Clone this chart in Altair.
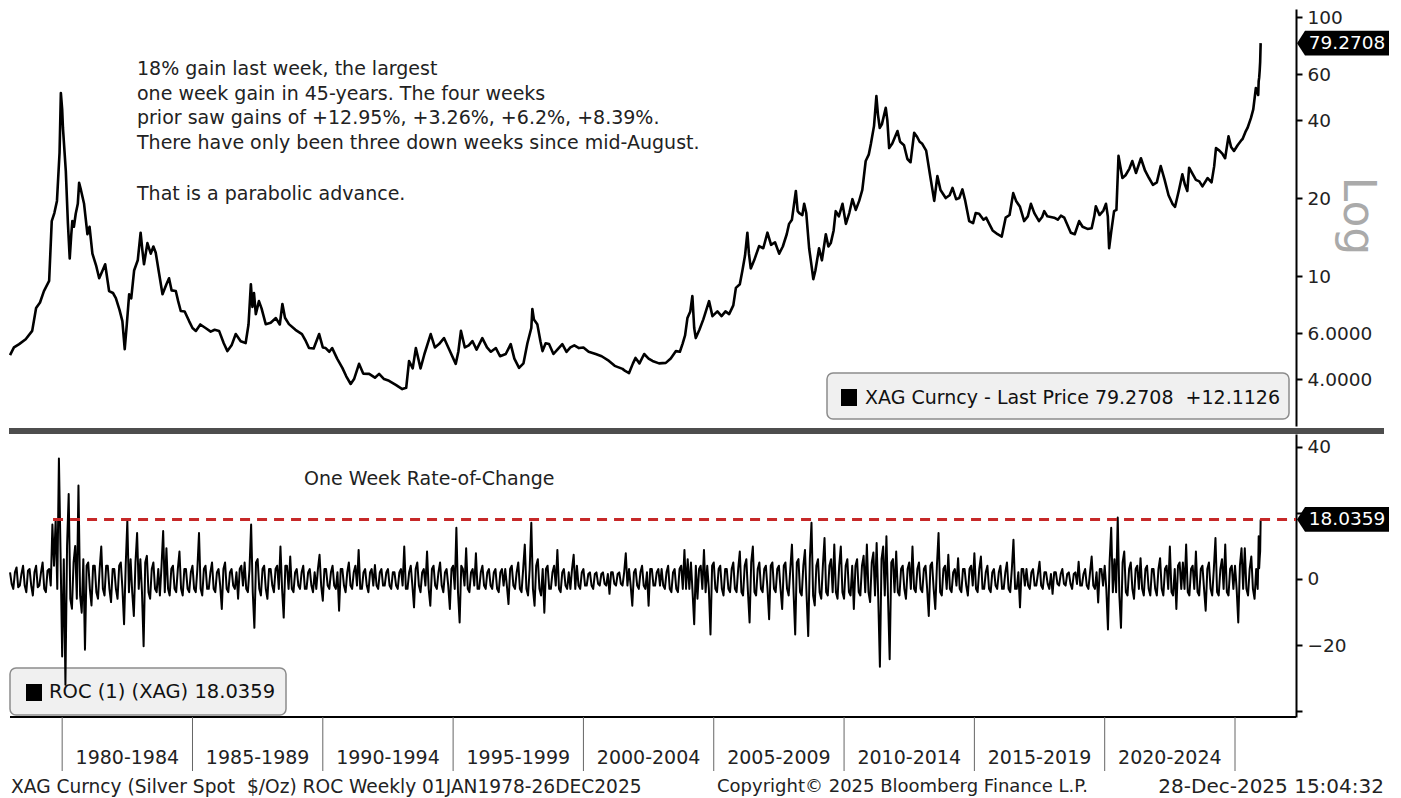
import altair as alt
import pandas as pd

# ---------------- data ----------------
price_year = [
    1978.0, 1978.15, 1978.35, 1978.6, 1978.85, 1979.0, 1979.15, 1979.3, 1979.5, 1979.6,
    1979.7, 1979.8, 1979.9, 1979.95, 1980.0, 1980.03, 1980.14, 1980.22, 1980.29, 1980.35,
    1980.39, 1980.45, 1980.52, 1980.6, 1980.65, 1980.72, 1980.84, 1980.97, 1981.05, 1981.16,
    1981.3, 1981.42, 1981.55, 1981.65, 1981.8, 1981.95, 1982.06, 1982.2, 1982.31, 1982.4,
    1982.48, 1982.57, 1982.65, 1982.76, 1982.9, 1983.01, 1983.08, 1983.14, 1983.27, 1983.4,
    1983.5, 1983.59, 1983.7, 1983.85, 1984.0, 1984.1, 1984.2, 1984.36, 1984.45, 1984.55,
    1984.7, 1984.87, 1985.0, 1985.13, 1985.3, 1985.5, 1985.7, 1985.85, 1986.02, 1986.2,
    1986.34, 1986.5, 1986.66, 1986.85, 1987.04, 1987.15, 1987.24, 1987.3, 1987.36, 1987.43,
    1987.55, 1987.65, 1987.81, 1988.0, 1988.2, 1988.35, 1988.45, 1988.55, 1988.7, 1988.95,
    1989.2, 1989.35, 1989.47, 1989.65, 1989.86, 1990.0, 1990.11, 1990.25, 1990.36, 1990.55,
    1990.75, 1990.9, 1991.07, 1991.2, 1991.39, 1991.55, 1991.78, 1992.0, 1992.16, 1992.35,
    1992.54, 1992.8, 1993.05, 1993.2, 1993.31, 1993.45, 1993.57, 1993.75, 1993.9, 1994.14,
    1994.3, 1994.46, 1994.65, 1994.85, 1995.1, 1995.2, 1995.3, 1995.45, 1995.6, 1995.74,
    1995.9, 1996.12, 1996.3, 1996.45, 1996.64, 1996.8, 1997.02, 1997.21, 1997.35, 1997.53,
    1997.7, 1997.85, 1998.0, 1998.04, 1998.1, 1998.23, 1998.35, 1998.43, 1998.55, 1998.68,
    1998.85, 1999.0, 1999.19, 1999.35, 1999.5, 1999.65, 1999.83, 2000.0, 2000.2, 2000.47,
    2000.7, 2000.98, 2001.2, 2001.5, 2001.6, 2001.75, 2001.9, 2002.0, 2002.15, 2002.33,
    2002.5, 2002.65, 2002.9, 2003.16, 2003.35, 2003.55, 2003.7, 2003.8, 2003.9, 2003.99,
    2004.1, 2004.18, 2004.25, 2004.31, 2004.45, 2004.6, 2004.82, 2004.95, 2005.14, 2005.3,
    2005.45, 2005.59, 2005.75, 2005.85, 2006.0, 2006.1, 2006.2, 2006.29, 2006.35, 2006.42,
    2006.55, 2006.74, 2006.9, 2007.06, 2007.2, 2007.35, 2007.51, 2007.65, 2007.8, 2007.89,
    2008.0, 2008.15, 2008.22, 2008.28, 2008.4, 2008.47, 2008.55, 2008.66, 2008.75, 2008.82,
    2008.9, 2009.04, 2009.15, 2009.3, 2009.4, 2009.49, 2009.6, 2009.68, 2009.8, 2009.94,
    2010.07, 2010.2, 2010.32, 2010.45, 2010.58, 2010.7, 2010.83, 2010.95, 2011.03, 2011.15,
    2011.24, 2011.3, 2011.37, 2011.45, 2011.6, 2011.66, 2011.73, 2011.85, 2012.05, 2012.15,
    2012.3, 2012.43, 2012.55, 2012.69, 2012.8, 2012.9, 2013.0, 2013.15, 2013.3, 2013.46,
    2013.58, 2013.7, 2013.9, 2014.05, 2014.16, 2014.3, 2014.42, 2014.54, 2014.65, 2014.8,
    2014.95, 2015.05, 2015.18, 2015.35, 2015.45, 2015.57, 2015.7, 2015.89, 2016.05, 2016.2,
    2016.35, 2016.49, 2016.6, 2016.75, 2016.91, 2017.05, 2017.17, 2017.3, 2017.48, 2017.6,
    2017.68, 2017.8, 2018.06, 2018.2, 2018.32, 2018.45, 2018.6, 2018.7, 2018.85, 2019.02,
    2019.15, 2019.34, 2019.5, 2019.6, 2019.66, 2019.8, 2019.95, 2020.05, 2020.12, 2020.17,
    2020.25, 2020.36, 2020.45, 2020.53, 2020.6, 2020.68, 2020.8, 2020.95, 2021.06, 2021.2,
    2021.39, 2021.55, 2021.7, 2021.85, 2022.0, 2022.15, 2022.3, 2022.45, 2022.6, 2022.7,
    2022.85, 2022.98, 2023.08, 2023.17, 2023.24, 2023.35, 2023.5, 2023.63, 2023.75, 2023.95,
    2024.1, 2024.2, 2024.27, 2024.4, 2024.52, 2024.62, 2024.75, 2024.85, 2024.96, 2025.1,
    2025.25, 2025.29, 2025.4, 2025.48, 2025.61, 2025.7, 2025.8, 2025.89, 2025.908, 2025.927,
    2025.946, 2025.965, 2025.984,
]
price_value = [
    4.95, 5.3, 5.46, 5.7, 6.14, 7.52, 7.9, 8.75, 9.57, 16.3,
    17.5, 19.5, 30.0, 50.9, 44.0, 37.3, 25.4, 16.0, 11.7, 14.5,
    16.3, 15.5, 17.4, 19.0, 22.9, 21.5, 19.0, 14.5, 15.5, 12.2,
    11.0, 9.8, 10.5, 11.1, 8.75, 8.6, 8.22, 7.4, 6.7, 5.22,
    6.5, 8.5, 8.2, 10.5, 11.5, 14.7, 12.5, 11.1, 13.4, 12.2,
    13.0, 12.3, 10.5, 8.5, 9.3, 9.8, 8.8, 8.75, 8.0, 7.33,
    7.3, 6.7, 6.3, 6.14, 6.5, 6.3, 6.1, 6.2, 6.14, 5.5,
    5.13, 5.4, 5.97, 5.6, 5.51, 6.5, 9.3, 7.6, 8.6, 7.13,
    8.0, 7.5, 6.52, 6.6, 6.88, 6.5, 7.8, 6.9, 6.52, 6.2,
    5.97, 5.6, 5.27, 5.25, 5.97, 5.3, 5.27, 5.1, 5.27, 4.8,
    4.42, 4.1, 3.83, 4.0, 4.58, 4.2, 4.19, 4.05, 4.19, 4.0,
    3.94, 3.8, 3.66, 3.7, 4.7, 4.4, 5.27, 4.4, 5.0, 5.97,
    5.3, 5.46, 5.76, 5.2, 4.58, 5.1, 6.14, 5.3, 5.4, 5.61,
    5.2, 5.76, 5.3, 5.1, 5.27, 4.9, 5.0, 5.46, 4.8, 4.42,
    4.6, 5.5, 6.3, 7.46, 6.8, 6.52, 5.6, 5.13, 5.5, 5.46,
    5.0, 5.2, 5.46, 5.1, 5.3, 5.4, 5.27, 5.3, 5.1, 5.0,
    4.9, 4.7, 4.5, 4.38, 4.3, 4.22, 4.6, 4.83, 4.6, 5.0,
    4.8, 4.7, 4.6, 4.62, 4.8, 5.13, 5.1, 5.46, 5.9, 6.88,
    7.3, 8.37, 6.3, 5.76, 6.2, 6.8, 8.0, 7.0, 7.3, 7.0,
    7.3, 7.13, 7.7, 9.0, 9.3, 10.5, 12.0, 14.7, 12.2, 10.7,
    11.5, 13.05, 12.8, 14.7, 13.2, 13.5, 12.2, 13.0, 14.5, 15.9,
    16.5, 21.3, 17.8, 17.5, 17.2, 19.0, 17.5, 12.8, 11.0, 9.73,
    10.5, 12.8, 11.5, 14.5, 13.0, 13.4, 15.0, 17.8, 17.0, 19.0,
    15.9, 17.5, 19.8, 18.0, 19.5, 21.5, 27.8, 29.5, 32.4, 38.0,
    49.5, 42.0, 37.3, 38.5, 44.6, 40.0, 31.2, 32.5, 36.3, 33.0,
    32.0, 28.3, 27.5, 35.7, 34.5, 33.0, 32.4, 30.5, 24.5, 19.5,
    24.3, 21.5, 20.0, 20.5, 21.9, 19.8, 20.0, 21.6, 19.5, 16.3,
    16.0, 17.5, 17.4, 16.5, 16.8, 15.9, 15.0, 14.5, 14.2, 16.8,
    17.2, 20.9, 19.5, 18.5, 16.3, 17.0, 19.0, 17.5, 16.3, 16.9,
    17.8, 17.0, 16.8, 16.5, 17.1, 16.8, 15.5, 14.7, 14.5, 16.3,
    15.5, 15.2, 15.3, 17.0, 18.6, 17.2, 17.9, 19.0, 17.0, 12.8,
    14.8, 17.8, 18.0, 29.1, 26.5, 23.9, 24.5, 26.0, 27.8, 25.0,
    28.5, 25.5, 23.9, 22.5, 23.0, 26.6, 23.5, 20.5, 19.0, 18.5,
    21.5, 24.7, 22.5, 21.3, 26.2, 25.0, 23.5, 23.2, 22.2, 23.9,
    23.0, 26.5, 31.2, 30.5, 29.6, 28.5, 34.6, 31.5, 30.4, 32.0,
    33.5, 33.8, 36.0, 37.3, 40.7, 44.0, 53.2, 50.0, 56.5, 58.35,
    61.97, 67.16, 79.2708,
]

# one-week rate of change, 16 readings per year starting 1978.0
roc_start_year = 1978.0
roc_step = 0.0625
roc_values = [
    2, -1.5, -3, 2, 3.5, -2.5, -2, 1.5, 4, -2, -4, 2.5, 3, -2, -5, 2,                 # 1978
    4, -2.5, -2, 2, 5, -3, -4, 2.5, 3, -2, 16.5, 4, 18, -3, 36.5, 8,                   # 1979
    -23.5, 6, -32, 10, 25.7, -6, -9, 5, 10, -6, 28.3, -5, -10.2, 6, -21.4, 4,          # 1980
    5, -3, -8, 4, 4, -4, -6, 3, 9.8, -3, -5, 4, 4, -3, -7, 3,                          # 1981
    3, -3, -6, 4, 5, -3, -13.7, 4, 17.5, -4, 6, -4, -11.2, 5, 13.9, -3,                # 1982
    6, -4, -20.4, 5, 7, -4, -6, 3, 5, -3, -4, 3, -5, 4, 14.5, -4,                      # 1983
    9.3, -3, -5, 3, 4, -3, -4, 3, 8.3, -3, -5, 3, 3, -3, -4, 2,                        # 1984
    4, -3, -4, 3, 13.9, -3, -5, 3, 4, -3, -3, 2, 5, -3, -4, 2,                         # 1985
    3, -2, -9.1, 3, 5, -3, -4, 2, 3, -2, -3, 2, -6, 3, 4, -2,                          # 1986
    5, -3, -4, 3, 16.5, -4, -14.8, 5, 6, -3, -5, 3, 4, -3, -6, 3,                      # 1987
    3, -2, -4, 3, 4, -3, 9.8, -3, -11.7, 4, 4, -3, 6.8, -3, -4, 2,                     # 1988
    3, -2, -3, 2, 4, -3, -3, 2, 3, -2, -4, 2, -3, 3, 7.3, -2,                          # 1989
    -6.6, 3, 3, -2, -3, 2, 4, -2, -3, 2, -9.6, 3, 3, -2, -4, 2,                        # 1990
    5, -2, -3, 2, 4, -2, 8.8, -3, -3, 2, 3, -2, -4, 2, 3, -2,                          # 1991
    4.2, -2, -3, 2, 3, -2, -2, 2, 3, -2, -3, 2, 2, -2, -3, 2,                          # 1992
    3, -2, 9.8, -3, -3, 2, 4, -2, -8.6, 3, 5, -2, -4, 2, 3, -2,                        # 1993
    8.3, -3, -8.1, 3, 4, -2, -3, 2, 5, -2, -4, 2, 3, -2, -9.1, 3,                      # 1994
    4, -3, 15.5, -4, -13.2, 4, 3, -2, 9.3, -3, -4, 2, 3, -2, 7.8, -3,                  # 1995
    -3, 2, 4, -2, -3, 2, 3, -2, -3, 2, 3, -3, -4, 2, 3, -2,                            # 1996
    3, -2, -7.6, 3, 4, -2, -3, 2, 5, -3, -4, 3, 10.4, -3, -5, 3,                       # 1997
    17.0, -3, -8.1, 4, 6, -3, -5, 3, -10.2, 3, 4, -3, -3, 2, 4, -2,                    # 1998
    8.8, -3, -4, 2, 3, -2, -3, 2, -3, 3, 7.3, -3, 4, -2, -3, 2,                        # 1999
    3, -2, -2, 1.5, 2, -2, -3, 1.5, 2, -1.5, -2, 1.5, 2, -1.5, -2, 1.5,                # 2000
    -4.5, 2, 2, -1.5, -2, 1.5, 2, -1.5, -2, 2, 7.8, -2, 3, -2, -8.1, 2,                # 2001
    3, -2, -3, 2, 4, -2, -3, 2, -8.1, 3, 3, -2, -2, 2, 3, -2,                          # 2002
    3, -2, -3, 2, 4, -3, -4, 2, 3, -3, -4, 3, 4, -3, 8.8, -3,                          # 2003
    6, -3, 5, -4, -13.7, 4, -6, 3, 4, -3, 8.8, -4, 4, -3, -16.8, 4,                    # 2004
    5, -3, -4, 3, 4, -3, -5, 3, 3, -3, -4, 3, 5, -3, -4, 3,                            # 2005
    8.3, -4, -5, 4, 6, -4, -13.2, 5, 9.8, -4, -5, 3, 5, -3, -4, 3,                     # 2006
    4, -3, -12.2, 4, 5, -3, -4, 3, 4, -3, -9.1, 4, 5, -3, -5, 3,                       # 2007
    10.4, -4, -16.8, 5, 6, -4, -5, 4, 8.8, -5, -17.3, 6, 17.0, -5, -8, 4,              # 2008
    6, -4, -6, 4, 12.4, -4, -5, 4, 6, -4, 10.4, -4, -6, 4, 9.8, -4,                    # 2009
    -6, 4, 6, -4, -5, 4, -9.1, 4, 6, -4, -5, 4, 7, -4, 10.4, -4,                       # 2010
    -7, 5, 8, -5, 10.9, -6, -26.6, 6, 9.8, -5, 12.9, -6, -24.3, 5, 6, -4,              # 2011
    8.3, -4, -5, 3, 4, -3, -6, 3, 5, -3, 9.8, -3, -4, 3, 5, -3,                        # 2012
    -4, 3, 4, -3, -11.2, 4, 5, -3, -9.1, 4, 13.9, -4, -5, 3, 4, -3,                    # 2013
    7.3, -3, -4, 2, 3, -2, 6.3, -3, -4, 3, 3, -2, -5, 3, 4, -2,                        # 2014
    7.8, -3, -4, 3, 6.8, -3, -3, 2, 4, -3, -4, 2, 3, -2, -3, 2,                        # 2015
    4, -3, -3, 2, 5, -3, -4, 3, 11.9, -3, -3, 2, -8.6, 3, 3, -2,                       # 2016
    3, -2, -3, 2, 3, -2, -2, 1.5, 5.2, -2, -3, 2, 2, -1.5, -3, 1.5,                    # 2017
    -4.5, 2, 2, -1.5, -2, 1.5, 3, -1.5, -2, 1.5, 2, -1.5, -3, 1.5, 2, -1.5,            # 2018
    5.2, -2, -2, 1.5, 3, -2, -3, 2, 6.8, -2, -3, 2, -7.1, 3, 3, -2,                    # 2019
    4, -3, -15.3, 5, 15.5, -4, 6, -4, 18.6, -5, -14.8, 5, 8.3, -4, -5, 3,              # 2020
    5, -3, -6, 3, 4, -3, 6.3, -3, -5, 3, 4, -3, -5, 3, 3, -3,                          # 2021
    -5, 3, 6.3, -3, -5, 3, 4, -3, 9.8, -4, -5, 3, -9.1, 4, 5, -3,                      # 2022
    5, -3, 10.4, -4, -5, 3, 4, -3, 8.3, -4, -5, 3, 4, -3, -9.6, 3,                     # 2023
    5, -3, -5, 3, 12.4, -4, -5, 3, 6, -3, 10.4, -4, -5, 3, 4, -3,                      # 2024
    4, -3, -13.2, 4, 9.3, -3, 9.3, -3, -5, 3, 6.8, -3, -6, 3,                          # 2025 (to Oct)
]
roc_final_year = [2025.87, 2025.89, 2025.908, 2025.927, 2025.946, 2025.965, 2025.984]
roc_final_value = [-3, 4, 12.95, 3.26, 6.2, 8.39, 18.0359]

last_price = 79.2708
price_change = 12.1126
roc_last = 18.0359
threshold_start = 1979.65

price_ticks = [4, 6, 10, 20, 40, 60, 100]
roc_ticks = [-40, -30, -20, -10, 0, 10, 20, 30, 40]

period_breaks = [1980, 1985, 1990, 1995, 2000, 2005, 2010, 2015, 2020, 2025]
period_mid = [1982.5, 1987.5, 1992.5, 1997.5, 2002.5, 2007.5, 2012.5, 2017.5, 2022.5]
period_labels = ["1980-1984", "1985-1989", "1990-1994", "1995-1999", "2000-2004",
                 "2005-2009", "2010-2014", "2015-2019", "2020-2024"]

note_lines = [
    "18% gain last week, the largest",
    "one week gain in 45-years. The four weeks",
    "prior saw gains of +12.95%, +3.26%, +6.2%, +8.39%.",
    "There have only been three down weeks since mid-August.",
]
note_last = "That is a parabolic advance."
roc_title = "One Week Rate-of-Change"
footer_left = "XAG Curncy (Silver Spot\u00a0 $/Oz) ROC Weekly 01JAN1978-26DEC2025"
footer_mid = "Copyright\u00a9 2025 Bloomberg Finance L.P."
footer_right = "28-Dec-2025 15:04:32"

# ---------------- layout constants ----------------
FONT = "DejaVu Sans"
FS = 19
W = 1287
H1 = 417
H2 = 283
X_DOMAIN = [1977.96, 2027.34]
TXT = "#222222"

price_df = pd.DataFrame({"year": price_year, "price": price_value})
roc_years = [roc_start_year + i * roc_step for i in range(len(roc_values))] + roc_final_year
roc_df = pd.DataFrame({"year": roc_years, "roc": roc_values + roc_final_value})
one = pd.DataFrame({"k": [0]})

xscale = alt.Scale(domain=X_DOMAIN, nice=False, zero=False)
X = alt.X("year:Q", scale=xscale, axis=None)

# ---------------- top panel ----------------
price_scale = alt.Scale(type="log", domain=[2.636, 107.4], nice=False)
y_price = alt.Y(
    "price:Q",
    scale=price_scale,
    axis=alt.Axis(
        orient="right", values=price_ticks, grid=False, title=None,
        labelExpr="datum.value < 10 ? format(datum.value, '.4f') : format(datum.value, 'd')",
        domainColor="black", domainWidth=2, tickColor="black", tickSize=6, tickWidth=2,
        labelFont=FONT, labelFontSize=18.5, labelColor=TXT, labelPadding=5,
    ),
)
price_line = alt.Chart(price_df).mark_line(
    color="black", strokeWidth=2.6, strokeJoin="round"
).encode(x=X, y=y_price)

note = alt.Chart(one).mark_text(
    text=note_lines, align="left", baseline="top", font=FONT, fontSize=FS,
    lineHeight=24.5, color=TXT,
).encode(x=alt.value(128), y=alt.value(51))
note2 = alt.Chart(one).mark_text(
    text=note_last, align="left", baseline="top", font=FONT, fontSize=FS, color=TXT,
).encode(x=alt.value(128), y=alt.value(176))

log_txt = alt.Chart(one).mark_text(
    text="Log", angle=90, align="center", baseline="middle", font=FONT,
    fontSize=44, color="#aaaaaa",
).encode(x=alt.value(1348), y=alt.value(207))

legend_box = alt.Chart(one).mark_rect(
    fill="#f0f0f0", stroke="#8c8c8c", strokeWidth=1.5, cornerRadius=6
).encode(x=alt.value(818), x2=alt.value(1280), y=alt.value(364), y2=alt.value(410))
legend_sq = alt.Chart(one).mark_rect(fill="black").encode(
    x=alt.value(832), x2=alt.value(848), y=alt.value(380), y2=alt.value(397))
legend_txt = alt.Chart(one).mark_text(
    text=f"XAG Curncy - Last Price {last_price:.4f}\u00a0 +{price_change:.4f}",
    align="left", baseline="middle", font=FONT, fontSize=FS, color="#111111",
).encode(x=alt.value(856), y=alt.value(389))

BOX_PATH = "M-1,0L-0.826,-0.27L1,-0.27L1,0.27L-0.826,0.27Z"
last_df = pd.DataFrame({"price": [last_price], "label": [f"{last_price:.4f}"]})
price_tag = alt.Chart(last_df).mark_point(
    shape=BOX_PATH, filled=True, color="black", opacity=1, size=92 * 92, strokeWidth=0
).encode(x=alt.value(W + 47), y=alt.Y("price:Q", scale=price_scale))
price_tag_txt = alt.Chart(last_df).mark_text(
    align="center", baseline="middle", font=FONT, fontSize=18.5, color="white"
).encode(x=alt.value(W + 51), y=alt.Y("price:Q"), text="label:N")

divider = alt.Chart(one).mark_rect(fill="#4d4d4d").encode(
    x=alt.value(0), x2=alt.value(1375), y=alt.value(H1 + 2), y2=alt.value(H1 + 8))

top = alt.layer(
    price_line, note, note2, log_txt, legend_box, legend_sq, legend_txt,
    price_tag, price_tag_txt, divider
).properties(width=W, height=H1)

# ---------------- bottom panel ----------------
y_roc = alt.Y(
    "roc:Q",
    scale=alt.Scale(domain=[-41.8, 43.9], nice=False, zero=False),
    axis=alt.Axis(
        orient="right", values=roc_ticks, grid=False, title=None,
        labelExpr="(datum.value == 40 || datum.value == 0 || datum.value == -20) ? datum.label : ''",
        domainColor="black", domainWidth=2, tickColor="black", tickSize=6, tickWidth=2,
        labelFont=FONT, labelFontSize=18.5, labelColor=TXT, labelPadding=5,
    ),
)
roc_line = alt.Chart(roc_df).mark_line(
    color="black", strokeWidth=2, strokeJoin="round"
).encode(x=X, y=y_roc)

thr_df = pd.DataFrame({"year": [threshold_start], "roc": [roc_last]})
thr_rule = alt.Chart(thr_df).mark_rule(
    color="#c62828", strokeWidth=3, strokeDash=[10, 7]
).encode(x=X, x2=alt.value(W), y=alt.Y("roc:Q"))

roc_title_txt = alt.Chart(one).mark_text(
    text=roc_title, align="left", baseline="middle", font=FONT, fontSize=FS, color=TXT
).encode(x=alt.value(295), y=alt.value(45))

roc_box = alt.Chart(one).mark_rect(
    fill="#f0f0f0", stroke="#8c8c8c", strokeWidth=1.5, cornerRadius=6
).encode(x=alt.value(1), x2=alt.value(277), y=alt.value(234), y2=alt.value(281))
roc_sq = alt.Chart(one).mark_rect(fill="black").encode(
    x=alt.value(17), x2=alt.value(33), y=alt.value(250), y2=alt.value(267))
roc_legend_txt = alt.Chart(one).mark_text(
    text=f"ROC (1) (XAG) {roc_last:.4f}", align="left", baseline="middle",
    font=FONT, fontSize=19.5, color="#111111",
).encode(x=alt.value(40), y=alt.value(258))

roc_last_df = pd.DataFrame({"roc": [roc_last], "label": [f"{roc_last:.4f}"]})
roc_tag = alt.Chart(roc_last_df).mark_point(
    shape=BOX_PATH, filled=True, color="black", opacity=1, size=92 * 92, strokeWidth=0
).encode(x=alt.value(W + 47), y=alt.Y("roc:Q"))
roc_tag_txt = alt.Chart(roc_last_df).mark_text(
    align="center", baseline="middle", font=FONT, fontSize=18.5, color="white"
).encode(x=alt.value(W + 51), y=alt.Y("roc:Q"), text="label:N")

base_line = alt.Chart(one).mark_rule(color="black", strokeWidth=2).encode(
    x=alt.value(1), x2=alt.value(W), y=alt.value(H2))

sep_df = pd.DataFrame({"year": period_breaks})
separators = alt.Chart(sep_df).mark_rule(color="#666666", strokeWidth=1).encode(
    x=X, y=alt.value(H2), y2=alt.value(H2 + 54))
lab_df = pd.DataFrame({"year": period_mid, "label": period_labels})
period_txt = alt.Chart(lab_df).mark_text(
    align="center", baseline="middle", font=FONT, fontSize=FS, color=TXT
).encode(x=X, y=alt.value(H2 + 41), text="label:N")

foot_l = alt.Chart(one).mark_text(
    text=footer_left, align="left", baseline="middle", font=FONT, fontSize=18.6, color=TXT
).encode(x=alt.value(2), y=alt.value(H2 + 70))
foot_m = alt.Chart(one).mark_text(
    text=footer_mid, align="left", baseline="middle", font=FONT, fontSize=18, color=TXT
).encode(x=alt.value(708), y=alt.value(H2 + 70))
foot_r = alt.Chart(one).mark_text(
    text=footer_right, align="right", baseline="middle", font=FONT, fontSize=20, color=TXT
).encode(x=alt.value(1375), y=alt.value(H2 + 70))

bottom = alt.layer(
    roc_box, roc_sq, roc_legend_txt, roc_line, thr_rule, roc_title_txt, roc_tag, roc_tag_txt,
    base_line, separators, period_txt, foot_l, foot_m, foot_r
).properties(width=W, height=H2)

chart = alt.vconcat(top, bottom, spacing=8, bounds="flush").properties(
    padding={"left": 0, "top": 0, "right": 0, "bottom": 0},
    background="white",
).configure_view(stroke=None)

chart.save("out.html", embed_options={"renderer": "svg", "actions": False})
